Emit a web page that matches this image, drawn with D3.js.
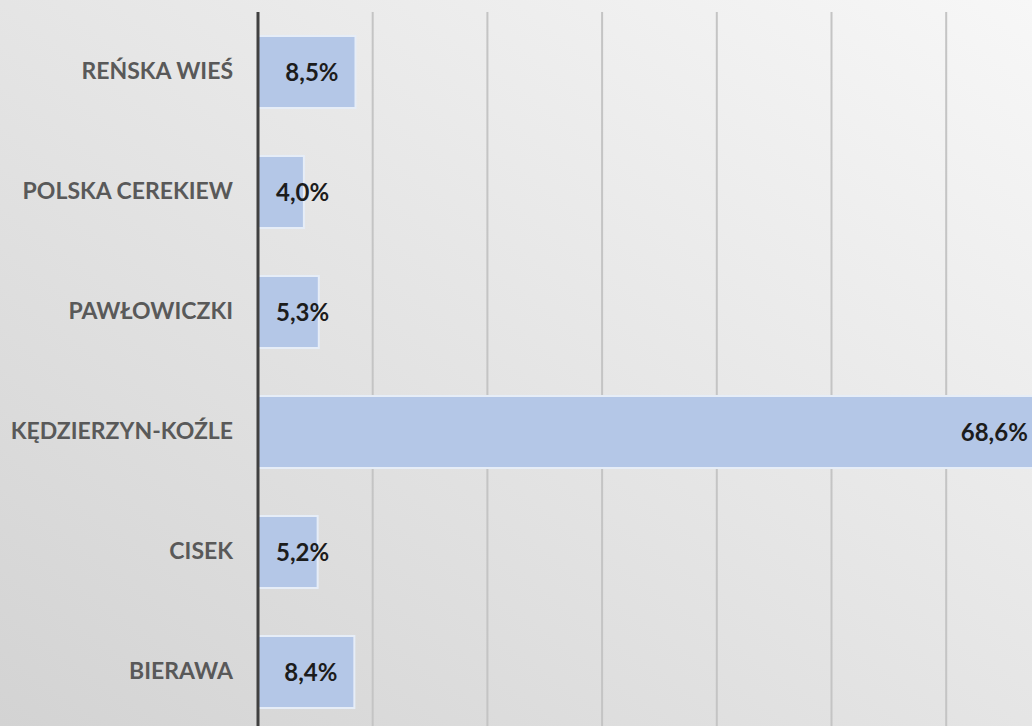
<!DOCTYPE html>
<html>
<head>
<meta charset="utf-8">
<script src="https://cdn.jsdelivr.net/npm/d3@7"></script>
<style>
  body { margin: 0; overflow: hidden; }
</style>
</head>
<body>
<div id="chart"></div>
<script>
var categories = ["REŃSKA WIEŚ", "POLSKA CEREKIEW", "PAWŁOWICZKI", "KĘDZIERZYN-KOŹLE", "CISEK", "BIERAWA"];
var values = [8.5, 4.0, 5.3, 68.6, 5.2, 8.4];
var gridTicks = [10, 20, 30, 40, 50, 60, 70];

var W = 1032, H = 726;
var plotLeft = 258, plotTop = 12;

var svg = d3.select("#chart").append("svg")
    .attr("width", W)
    .attr("height", H);

// background gradient
var defs = svg.append("defs");
var grad = defs.append("linearGradient")
    .attr("id", "bg")
    .attr("x1", "1").attr("y1", "0")
    .attr("x2", "0").attr("y2", "1");
grad.append("stop").attr("offset", "0%").attr("stop-color", "#f7f7f7");
grad.append("stop").attr("offset", "100%").attr("stop-color", "#d3d3d3");
svg.append("rect").attr("width", W).attr("height", H).attr("fill", "url(#bg)");

var x = d3.scaleLinear()
    .domain([0, 80])
    .range([plotLeft, plotLeft + 8 * 114.7]);

var y = d3.scaleBand()
    .domain(categories)
    .range([plotTop, plotTop + 720])
    .paddingInner(0.4)
    .paddingOuter(0.2);

//gridlines
svg.append("g")
    .selectAll("line")
    .data(gridTicks)
    .join("line")
    .attr("x1", d => x(d))
    .attr("x2", d => x(d))
    .attr("y1", plotTop)
    .attr("y2", H)
    .attr("stroke", "#c4c4c4")
    .attr("stroke-width", 2);

//bars
svg.append("g")
    .selectAll("rect")
    .data(values)
    .join("rect")
    .attr("x", x(0))
    .attr("y", (d, i) => y(categories[i]))
    .attr("width", d => x(d) - x(0))
    .attr("height", y.bandwidth())
    .attr("fill", "#b4c7e7")
    .attr("stroke", "#e6edf7")
    .attr("stroke-width", 2);

//value labels
var labels = svg.append("g")
    .selectAll("text")
    .data(values)
    .join("text")
    .attr("y", (d, i) => y(categories[i]) + y.bandwidth() / 2)
    .attr("dy", "0.36em")
    .style("font-family", "Lato, 'Open Sans', sans-serif")
    .style("font-weight", "bold")
    .style("font-size", "24px")
    .style("fill", "#1c1c1c")
    .text(d => d.toFixed(1).replace(".", ",") + "%");

labels.each(function(d) {
    var w = this.getComputedTextLength();
    var xs = Math.max(x(0) + 18, x(d) - 17 - w);
    d3.select(this).attr("x", xs);
});

//category axis
var yAxis = svg.append("g")
    .attr("transform", "translate(" + (plotLeft - 25) + ",0)")
    .call(d3.axisLeft(y).tickSize(0).tickPadding(0));
yAxis.select(".domain").remove();
yAxis.selectAll("text")
    .style("font-family", "Lato, 'Open Sans', sans-serif")
    .style("font-weight", "bold")
    .style("font-size", "23px")
    .style("fill", "#595959");

//axis line
svg.append("line")
    .attr("x1", plotLeft).attr("x2", plotLeft)
    .attr("y1", plotTop).attr("y2", H)
    .attr("stroke", "#404040")
    .attr("stroke-width", 3);
</script>
</body>
</html>
